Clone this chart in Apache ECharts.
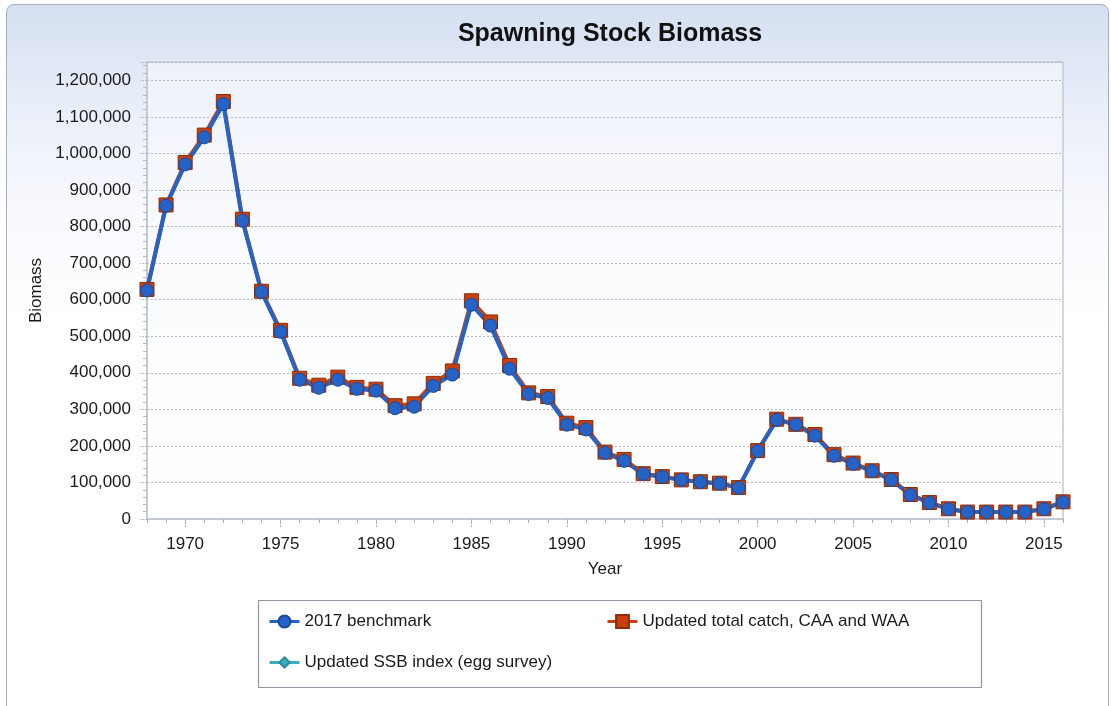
<!DOCTYPE html>
<html>
<head>
<meta charset="utf-8">
<title>Spawning Stock Biomass</title>
<script src="https://cdn.jsdelivr.net/npm/echarts@6.0.0/dist/echarts.min.js"></script>
<style>
  html, body { margin: 0; padding: 0; background: #fff; }
  #wrap { position: relative; width: 1111px; height: 706px; overflow: hidden; }
  /* rounded panel behind the chart */
  #panel {
    position: absolute; left: 6px; top: 4px; width: 1101px; height: 740px;
    border: 1.5px solid #a9b0b9; border-radius: 8px;
    background: linear-gradient(to bottom, #d5dff1 0px, #e7edf8 90px, #f7f9fd 200px, #ffffff 320px);
  }
  #main { position: absolute; left: 0; top: 0; width: 1111px; height: 706px; }
</style>
</head>
<body>
<div id="wrap">
  <div id="panel"></div>
  <div id="main"></div>
</div>
<script>
  // years 1968 - 2016
  var years = [
    1968, 1969, 1970, 1971, 1972, 1973, 1974, 1975, 1976, 1977,
    1978, 1979, 1980, 1981, 1982, 1983, 1984, 1985, 1986, 1987,
    1988, 1989, 1990, 1991, 1992, 1993, 1994, 1995, 1996, 1997,
    1998, 1999, 2000, 2001, 2002, 2003, 2004, 2005, 2006, 2007,
    2008, 2009, 2010, 2011, 2012, 2013, 2014, 2015, 2016
  ]

  // 2017 benchmark
  var benchmark = [
    625000, 857000, 970000, 1044000, 1135000, 816000, 621000, 512000, 381000, 359000,
    381000, 356000, 351000, 303000, 307000, 364000, 395000, 586000, 529000, 411000,
    342000, 331000, 258000, 245000, 181000, 159000, 123000, 115000, 107000, 101000,
    97000, 85000, 186000, 271000, 258000, 228000, 173000, 151000, 131000, 107000,
    66000, 44000, 27000, 19000, 19000, 19000, 19000, 27000, 46000
  ]

  // Updated total catch, CAA and WAA
  var updatedCatch = [
    628000, 859000, 975000, 1050000, 1142000, 820000, 623000, 516000, 385000, 366000,
    388000, 360000, 355000, 310000, 315000, 371000, 405000, 597000, 539000, 420000,
    345000, 335000, 262000, 250000, 183000, 163000, 124000, 116000, 107000, 102000,
    98000, 86000, 187000, 273000, 259000, 231000, 176000, 153000, 132000, 108000,
    67000, 45000, 28000, 19000, 19000, 19000, 19000, 28000, 47000
  ]

  // Updated SSB index (egg survey) - sits under the benchmark line
  var updatedSsb = benchmark.slice()

  var yTicks = { min: 0, max: 1250000, step: 100000 }

  function pairs(vals) {
    return years.map(function (y, i) { return [y, vals[i]] })
  }

  var myChart = echarts.init(document.getElementById('main'), null, { renderer: 'canvas' })

  var font = 'Liberation Sans, Arial, sans-serif'
  var axisGray = '#c3cad3'
  var legendText = { fontFamily: font, fontSize: 17, color: '#1a1a1a' }

  var option = {
    backgroundColor: 'transparent',
    animation: false,
    title: {
      text: 'Spawning Stock Biomass',
      left: 605,
      textAlign: 'center',
      top: 17,
      textStyle: { fontFamily: font, fontSize: 25, fontWeight: 'bold', color: '#111' }
    },
    grid: {
      left: 147, right: 48, top: 62, bottom: 187,
      show: true,
      borderColor: axisGray,
      borderWidth: 1.5,
      backgroundColor: new echarts.graphic.LinearGradient(0, 0, 0, 1, [
        { offset: 0, color: '#edf1f9' },
        { offset: 0.45, color: '#fbfcfe' },
        { offset: 1, color: '#ffffff' }
      ])
    },
    // legend box
    graphic: [{
      type: 'rect',
      z: 1,
      shape: { x: 258.5, y: 600.5, width: 723, height: 87 },
      style: { fill: '#fff', stroke: '#8f99a4', lineWidth: 1.2 }
    }],
    legend: [
      {
        data: ['2017 benchmark'], left: 268, top: 613, padding: 0,
        itemWidth: 30, itemHeight: 15,
        lineStyle: { width: 3 },
        textStyle: legendText
      },
      {
        data: ['Updated total catch, CAA and WAA'], left: 606, top: 613, padding: 0,
        itemWidth: 30, itemHeight: 16,
        lineStyle: { width: 3 },
        textStyle: legendText
      },
      {
        data: ['Updated SSB index (egg survey)'], left: 268, top: 654, padding: 0,
        itemWidth: 30, itemHeight: 13,
        lineStyle: { width: 3 },
        textStyle: legendText
      }
    ],
    xAxis: [
      {
        // yearly minor ticks
        type: 'value',
        min: years[0],
        max: years[years.length - 1],
        interval: 1,
        axisLine: { show: true, lineStyle: { color: axisGray, width: 2 } },
        axisTick: { show: true, length: 4, lineStyle: { color: '#aab2bc' } },
        axisLabel: { show: false },
        splitLine: { show: false }
      },
      {
        // 5-year labels + longer ticks
        type: 'category',
        data: years.map(String),
        boundaryGap: false,
        position: 'bottom',
        axisLine: { show: false },
        axisTick: {
          show: true, length: 8,
          interval: function (idx, val) { return +val % 5 === 0 },
          lineStyle: { color: '#aab2bc', type: [2, 1] }
        },
        axisLabel: {
          interval: function (idx, val) { return +val % 5 === 0 },
          margin: 17,
          fontFamily: font, fontSize: 17, color: '#1a1a1a'
        },
        name: 'Year',
        nameLocation: 'middle',
        nameGap: 42,
        nameTextStyle: { fontFamily: font, fontSize: 17, color: '#1a1a1a' },
        splitLine: { show: false }
      }
    ],
    yAxis: {
      type: 'value',
      min: yTicks.min,
      max: yTicks.max,
      interval: yTicks.step,
      name: 'Biomass',
      nameLocation: 'middle',
      nameGap: 101,
      nameRotate: 90,
      nameTextStyle: { fontFamily: font, fontSize: 17, color: '#1a1a1a' },
      axisLine: { show: true, lineStyle: { color: axisGray, width: 2 } },
      axisTick: { show: true, length: 7, lineStyle: { color: '#b4bbc4', type: [2, 1] } },
      minorTick: { show: true, splitNumber: 5, length: 4, lineStyle: { color: '#b4bbc4' } },
      axisLabel: {
        showMaxLabel: false,
        margin: 16,
        fontFamily: font, fontSize: 17, color: '#1a1a1a',
        formatter: function (v) { return v.toLocaleString('en-US') }
      },
      splitLine: { show: true, lineStyle: { color: '#b3b8c0', type: [2, 2], width: 1 } }
    },
    series: [
      {
        name: 'Updated total catch, CAA and WAA',
        type: 'line',
        data: pairs(updatedCatch),
        symbol: 'rect',
        symbolSize: 14,
        color: '#c8400f',
        itemStyle: { color: '#c8400f', borderColor: '#8e2c07', borderWidth: 1 },
        lineStyle: { color: '#c8400f', width: 4 }
      },
      {
        name: 'Updated SSB index (egg survey)',
        type: 'line',
        data: pairs(updatedSsb),
        symbol: 'diamond',
        symbolSize: 11,
        color: '#3aaebe',
        itemStyle: { color: '#3aaebe', borderColor: '#2a8a98', borderWidth: 1 },
        lineStyle: { color: '#3aaebe', width: 3 }
      },
      {
        name: '2017 benchmark',
        type: 'line',
        data: pairs(benchmark),
        symbol: 'circle',
        symbolSize: 13,
        color: '#2563c7',
        itemStyle: { color: '#2563c7', borderColor: '#1a4a9c', borderWidth: 1 },
        lineStyle: { color: '#2563c7', width: 4 }
      }
    ]
  }

  myChart.setOption(option)

  window.onresize = function () {
    myChart.resize()
  }
</script>
</body>
</html>
